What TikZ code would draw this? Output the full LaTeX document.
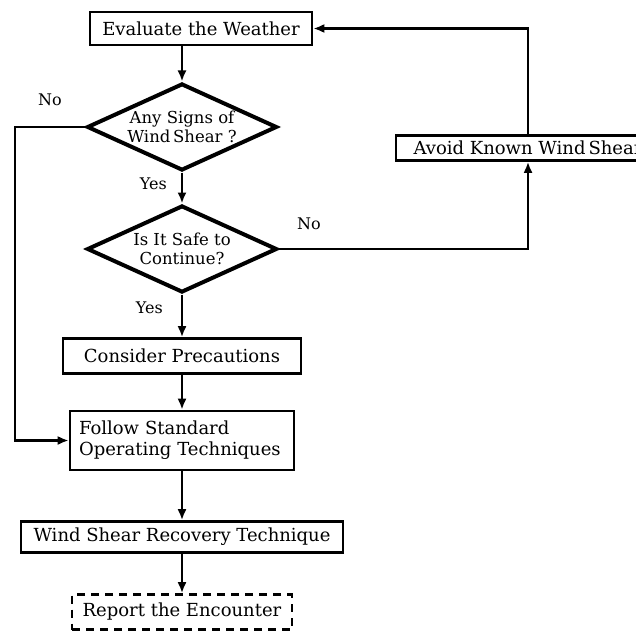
\documentclass[tikz,border=0pt]{standalone}
\usepackage{fontspec}
\setmainfont{DejaVu Serif}
\usetikzlibrary{shapes.geometric}
\usetikzlibrary{arrows.meta}
\usetikzlibrary{positioning}

\tikzset{
  stepbox/.style={draw, line width=2.6pt, inner sep=5pt, font=\fontsize{18}{21}\selectfont},
  query/.style={draw, diamond, aspect=2.2, inner sep=0pt, line width=4pt, minimum width=190pt, minimum height=87pt, align=center, font=\fontsize{16.5}{18.5}\selectfont},
  flow/.style={line width=2.4pt, -{Latex[length=11pt,width=9pt]}},
  answer/.style={inner sep=0pt, font=\fontsize{16}{18}\selectfont}
}

\begin{document}
\begin{tikzpicture}[x=1pt, y=-1pt]
\useasboundingbox (0,0) rectangle (636,631);
\clip (0,0) rectangle (636,631);

%weather
\node[stepbox, minimum width=222pt, minimum height=33pt] (weather) at (201,28.5) {Evaluate the Weather};

%decisions
\node[query] (signs) at (182,127) {Any Signs of\\Wind\,Shear ?};
\node[query] (safe) at (182,249) {Is It Safe to\\Continue?};

%avoid, runs off the right edge
\node[stepbox, minimum width=264pt, minimum height=25pt, inner sep=3pt] (avoid) at (528,148) {Avoid Known Wind\,Shear};

%lower boxes
\node[stepbox, minimum width=238pt, minimum height=35pt] (precaution) at (182,356) {Consider Precautions};
\node[stepbox, minimum width=224pt, minimum height=59pt, text width=206pt, align=left] (standard) at (182,440.5) {Follow Standard\\Operating Techniques};
\node[stepbox, minimum width=322pt, minimum height=31pt] (recovery) at (182,537) {Wind Shear Recovery Technique};
\node[stepbox, dash pattern=on 8pt off 6pt, minimum width=220pt, minimum height=35pt] (report) at (182,612) {Report the Encounter};

\coordinate (bypass) at (15,127);

%main line
\draw[flow] (weather.south -| signs.north) -- (signs.north);
\draw[flow] (signs.south) -- node[answer, pos=0.35, left=14pt] {Yes} (safe.north);
\draw[flow] (safe.south) -- node[answer, pos=0.3, left=18pt] {Yes} (precaution.north);
\draw[flow] (precaution.south) -- (standard.north);
\draw[flow] (standard.south) -- (recovery.north);
\draw[flow] (recovery.south) -- (report.north);

%no branches
\draw[flow] (signs.west) -- node[answer, above=20pt] {No} (bypass) |- (standard.west);
\draw[flow] (safe.east) -- node[answer, pos=0.12, above=18pt] {No} (safe.east -| avoid.south) -- (avoid.south);
\draw[flow] (avoid.north) |- (weather.east);
\end{tikzpicture}
\end{document}
